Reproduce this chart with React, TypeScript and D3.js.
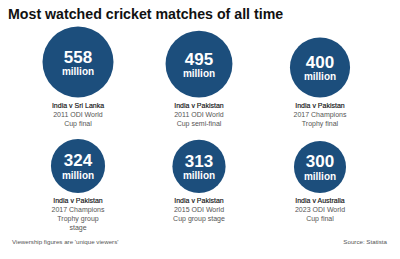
import React from "react";
import * as d3 from "d3";

const matches = [
  "India v Sri Lanka",
  "India v Pakistan",
  "India v Pakistan",
  "India v Pakistan",
  "India v Pakistan",
  "India v Australia",
];
const viewers = [558, 495, 400, 324, 313, 300];
const details = [
  ["2011 ODI World", "Cup final"],
  ["2011 ODI World", "Cup semi-final"],
  ["2017 Champions", "Trophy final"],
  ["2017 Champions", "Trophy group", "stage"],
  ["2015 ODI World", "Cup group stage"],
  ["2023 ODI World", "Cup final"],
];
const unitLabel = "million";
const title = "Most watched cricket matches of all time";
const note = "Viewership figures are 'unique viewers'";
const source = "Source: Statista";

const W = 400;
const H = 259;
const FONT = "'Liberation Sans', Arial, sans-serif";
const BLUE = "#1c4e7c";

export default function App() {
  const r = d3.scaleSqrt().domain([0, d3.max(viewers) as number]).range([0, 35.5]);
  const x = d3.scalePoint<number>().domain([0, 1, 2]).range([78, 320]);
  const rowBottom = d3.scalePoint<number>().domain([0, 1]).range([97.5, 193]);

  return (
    <svg
      width={W}
      height={H}
      style={{ position: "absolute", left: 0, top: 0, background: "#fff" }}
      fontFamily={FONT}
    >
      <text x={8} y={18.5} fontSize={14.2} fontWeight={700} fill="#111">
        {title}
      </text>
      {viewers.map((v, i) => {
        const col = i % 3;
        const row = Math.floor(i / 3);
        const cx = x(col) as number;
        const bottom = rowBottom(row) as number;
        const rad = r(v);
        const cy = bottom - rad;
        return (
          <g key={i}>
            <circle cx={cx} cy={cy} r={rad} fill={BLUE} />
            <text
              x={cx}
              y={cy + 0.5}
              textAnchor="middle"
              fontSize={17}
              fontWeight={700}
              fill="#fff"
            >
              {v}
            </text>
            <text
              x={cx}
              y={cy + 13}
              textAnchor="middle"
              fontSize={10}
              fontWeight={700}
              fill="#fff"
            >
              {unitLabel}
            </text>
            <text
              x={cx}
              y={bottom + 10}
              textAnchor="middle"
              fontSize={7}
              fontWeight={400}
              fill="#111"
              stroke="#111"
              strokeWidth={0.15}
            >
              {matches[i]}
            </text>
            {details[i].map((d, j) => (
              <text
                key={j}
                x={cx}
                y={bottom + 10 + 9 * (j + 1)}
                textAnchor="middle"
                fontSize={7}
                fill="#555"
              >
                {d}
              </text>
            ))}
          </g>
        );
      })}
      <text x={12} y={244} fontSize={6.2} fill="#555">
        {note}
      </text>
      <text x={387} y={244} fontSize={6.2} fill="#555" textAnchor="end">
        {source}
      </text>
    </svg>
  );
}
